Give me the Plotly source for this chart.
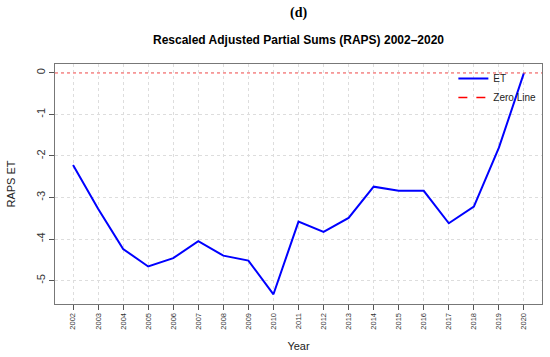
import plotly.graph_objects as go

years = list(range(2002, 2021))
raps_et = [-2.22, -3.27, -4.24, -4.66, -4.46, -4.05, -4.40, -4.52, -5.33,
           -3.58, -3.83, -3.49, -2.74, -2.84, -2.84, -3.62, -3.22, -1.80, 0.0]
y_ticks = [0, -1, -2, -3, -4, -5]
zero_level = 0

FONT = "Liberation Sans, Arial, sans-serif"

fig = go.Figure()
fig.add_shape(type="line", xref="paper", x0=0, x1=1, yref="y", y0=zero_level, y1=zero_level,
              line=dict(color="#FF6060", width=1.5, dash="dot"), layer="above", opacity=0.7)
fig.add_trace(go.Scatter(x=years, y=raps_et, mode="lines", name="ET",
                         line=dict(color="#0000FF", width=2)))
fig.add_trace(go.Scatter(x=[None], y=[None], mode="lines", name="Zero Line",
                         line=dict(color="#FF0000", width=1.5, dash="dash")))

fig.update_layout(
    width=550, height=357,
    margin=dict(l=55, r=8, t=64, b=53, autoexpand=False),
    plot_bgcolor="white", paper_bgcolor="white",
    font=dict(family=FONT, color="#222"),
    showlegend=True,
    legend=dict(x=0.818, y=1.0, xanchor="left", yanchor="top", bgcolor="rgba(0,0,0,0)",
                font=dict(size=10, family=FONT), borderwidth=0, tracegroupgap=0,
                itemwidth=30),
    annotations=[
        dict(text="<b>(d)</b>", xref="paper", yref="paper", x=0.5, y=1, yshift=51, yanchor="middle",
             showarrow=False, font=dict(family="Liberation Serif, Times New Roman, serif", size=14, color="#000")),
        dict(text="<b>Rescaled Adjusted Partial Sums (RAPS) 2002\u20132020</b>", xref="paper", yref="paper",
             x=0.5, y=1, yshift=24, yanchor="middle", showarrow=False,
             font=dict(family=FONT, size=12, color="#000")),
    ],
    xaxis=dict(
        range=[2001.28, 2020.72], tickmode="array", tickvals=years, ticktext=[str(y) for y in years],
        tickangle=-90, tickfont=dict(size=7.5, color="#333"), ticks="outside", ticklen=5,
        tickcolor="#555", showline=True, linecolor="#777", mirror=True, linewidth=1,
        showgrid=True, gridcolor="#ddd", griddash="dot", gridwidth=1, zeroline=False,
        automargin=False,
        title=dict(text="Year", font=dict(size=11, color="#222"), standoff=13),
    ),
    yaxis=dict(
        range=[-5.564, 0.214], tickmode="array", tickvals=y_ticks, ticktext=[str(v) for v in y_ticks],
        tickangle=-90, tickfont=dict(size=11, color="#333"), ticks="outside", ticklen=5,
        tickcolor="#555", showline=True, linecolor="#777", mirror=True, linewidth=1,
        showgrid=True, gridcolor="#ddd", griddash="dot", gridwidth=1, zeroline=False,
        automargin=False,
        title=dict(text="RAPS ET", font=dict(size=11, color="#222"), standoff=16),
    ),
)

fig.write_html("out.html", config={"displayModeBar": False},
               post_script="document.body.style.margin='0';")
